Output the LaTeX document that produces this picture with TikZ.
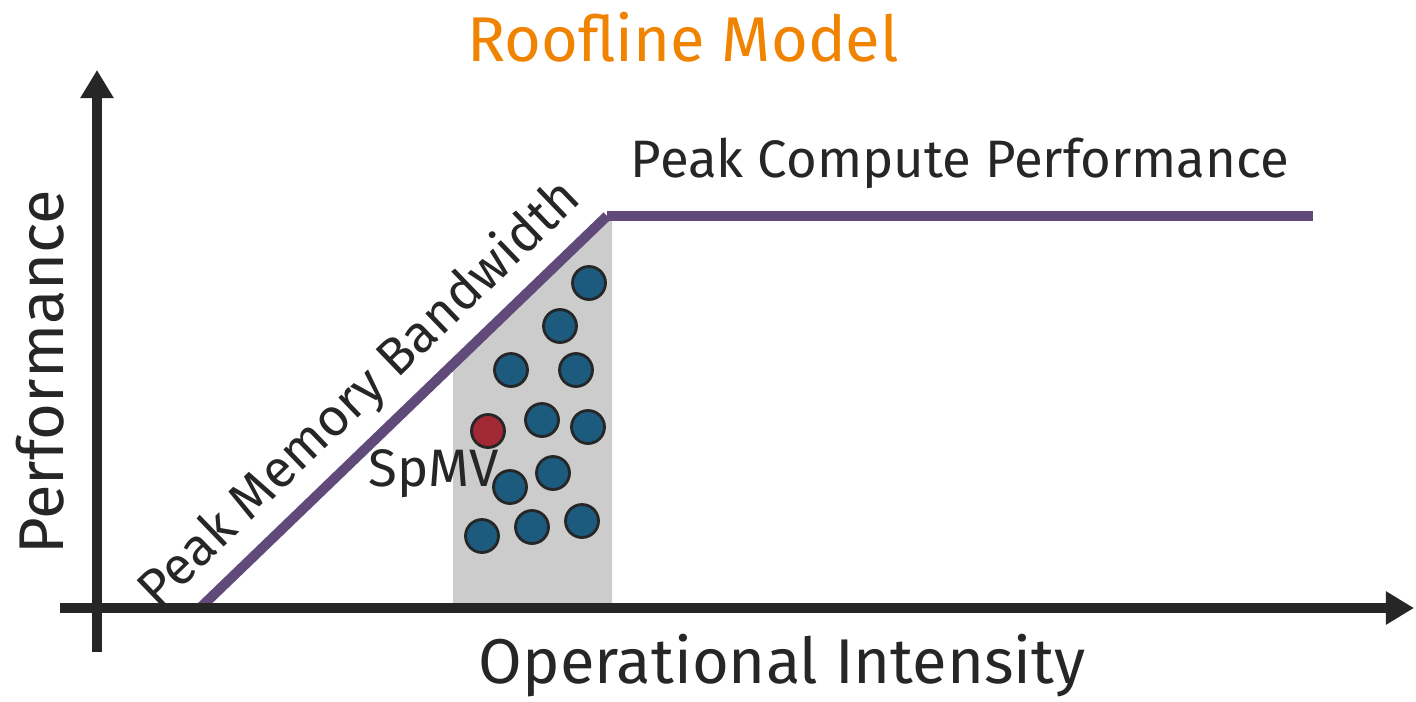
\documentclass[tikz,border=0pt]{standalone}
\usepackage{fontspec}
\setmainfont{Fira Sans}
\usepackage{tikz}
\usetikzlibrary{arrows.meta, positioning, calc}
\definecolor{axisgray}{HTML}{262626}
\definecolor{roofpurple}{HTML}{5F4A7A}
\definecolor{dotblue}{HTML}{1C5A7E}
\definecolor{dotred}{HTML}{A12835}
\definecolor{regiongray}{HTML}{CCCCCC}
\definecolor{titleorange}{HTML}{F08300}

\begin{document}
\begin{tikzpicture}[x=0.02cm, y=-0.02cm,
	axis/.style={line width=6.2pt, axisgray, -{Triangle[length=16pt,width=18pt]}},
	roof/.style={line width=5.7pt, roofpurple},
	dot/.style={circle, draw=axisgray, line width=1.6pt, minimum size=0.66cm, inner sep=0pt},
	bigtext/.style={font=\fontsize{36}{40}\selectfont, text=axisgray},
	midtext/.style={font=\fontsize{30}{34}\selectfont, text=axisgray}]
			\useasboundingbox (0,0) rectangle (1416,701);
			\coordinate (xstart) at (60,608);
			\coordinate (xend) at (1414,608);
			\coordinate (ystart) at (97,652);
			\coordinate (yend) at (97,70);
			\coordinate (knee) at (607,216);
			\coordinate (roofstart) at (200,608);
			\coordinate (roofend) at (1313,216);
			
			% SpMV region
			\fill[regiongray] (453,604) -- (453,364) -- (knee) -- (612,216) -- (612,604) -- cycle;
			
			% roofline
			\draw[roof] (roofstart) -- (knee) node[pos=0.466, sloped, above=3pt, midtext] (bwlabel) {Peak Memory Bandwidth};
			\draw[roof] (knee) -- (roofend);
			
			% kernels
			\node[dot, fill=dotblue] (k1) at (589,283) {};
			\node[dot, fill=dotblue] (k2) at (560,326) {};
			\node[dot, fill=dotblue] (k3) at (511,370) {};
			\node[dot, fill=dotblue] (k4) at (576,370) {};
			\node[dot, fill=dotred] (spmv) at (488,431) {};
			\node[dot, fill=dotblue] (k5) at (542,420) {};
			\node[dot, fill=dotblue] (k6) at (588,427) {};
			\node[dot, fill=dotblue] (k7) at (553,473) {};
			\node[dot, fill=dotblue] (k8) at (510,487) {};
			\node[dot, fill=dotblue] (k9) at (482,536) {};
			\node[dot, fill=dotblue] (k10) at (532,527) {};
			\node[dot, fill=dotblue] (k11) at (582,521) {};
			\node[midtext] (spmvlabel) at (434,474) {SpMV};
			
			% axes
			\draw[axis] (xstart) -- (xend);
			\draw[axis] (ystart) -- (yend);
			\node[bigtext] (xlabel) at (782,666) {Operational Intensity};
			\node[bigtext, rotate=90] (ylabel) at (40,372) {Performance};
			\node[midtext] (peaklabel) at (960,163) {Peak Compute Performance};
			\node[font=\fontsize{36}{40}\selectfont, text=titleorange] (title) at (683,37) {Roofline Model};
		\end{tikzpicture}
\end{document}
